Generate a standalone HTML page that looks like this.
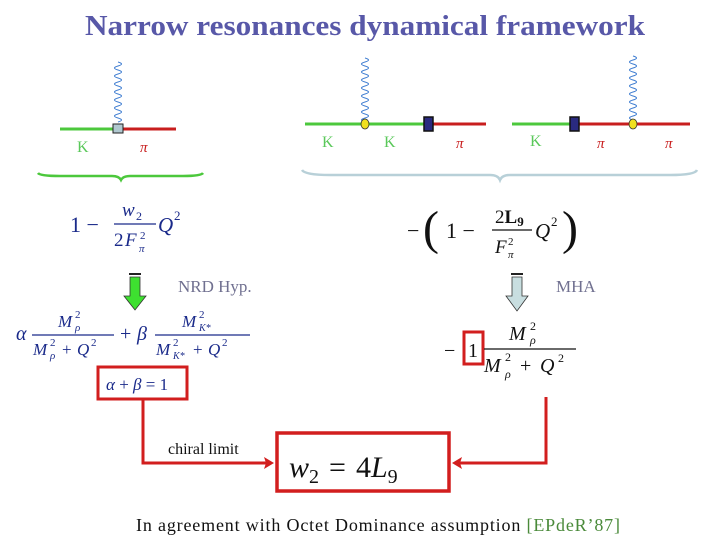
<!DOCTYPE html>
<html><head><meta charset="utf-8"><style>
html,body{margin:0;padding:0;background:#fff;}
svg{display:block;}
.m{font-family:"Liberation Serif",serif;fill:#1a2a8a;font-style:italic;}
.r{font-family:"Liberation Serif",serif;fill:#1a2a8a;}
.k{font-family:"Liberation Serif",serif;fill:#5ac85a;font-size:16px;}
.p{font-family:"Liberation Serif",serif;fill:#c81e1e;font-size:15px;font-style:italic;}
.g{font-family:"Liberation Serif",serif;fill:#707090;font-size:17px;}
.b{font-family:"Liberation Serif",serif;fill:#111;}
</style></head><body>
<svg width="720" height="540" viewBox="0 0 720 540" xmlns="http://www.w3.org/2000/svg">
<text x="365" y="35" text-anchor="middle" font-family="Liberation Serif,serif" font-weight="bold" font-size="28" fill="#5858a8" textLength="560" lengthAdjust="spacingAndGlyphs">Narrow resonances dynamical framework</text>

<!-- diagram 1 -->
<path d="M118,62 q7,2 0,4 t0,4 t0,4 t0,4 t0,4 t0,4 t0,4 t0,4 t0,4 t0,4 t0,4 t0,4 t0,4 t0,4 t0,4" fill="none" stroke="#3a7ad0" stroke-width="1"/>
<line x1="60" y1="129" x2="118" y2="129" stroke="#4cc83c" stroke-width="3"/>
<line x1="118" y1="129" x2="176" y2="129" stroke="#c81e1e" stroke-width="3"/>
<rect x="113" y="124" width="10" height="9" fill="#b0c8d0" stroke="#222" stroke-width="1"/>
<text x="77" y="152" class="k">K</text>
<text x="140" y="152" class="p">π</text>
<path d="M38,173 Q40,176 60,176 L112,176 Q119,176 121,180 Q123,176 130,176 L183,176 Q201,176 203,173" fill="none" stroke="#4cc83c" stroke-width="2.5"/>

<!-- diagram 2 -->
<path d="M365,58 q7,2 0,4 t0,4 t0,4 t0,4 t0,4 t0,4 t0,4 t0,4 t0,4 t0,4 t0,4 t0,4 t0,4 t0,4 t0,4 t0,4" fill="none" stroke="#3a7ad0" stroke-width="1"/>
<line x1="305" y1="124" x2="428" y2="124" stroke="#4cc83c" stroke-width="3"/>
<line x1="428" y1="124" x2="486" y2="124" stroke="#c81e1e" stroke-width="3"/>
<ellipse cx="365" cy="124" rx="4" ry="5" fill="#f0e020" stroke="#333" stroke-width="0.8"/>
<rect x="424" y="117" width="9" height="14" fill="#2a2a80" stroke="#111" stroke-width="1.5"/>
<text x="322" y="147" class="k">K</text>
<text x="384" y="147" class="k">K</text>
<text x="456" y="148" class="p">π</text>

<!-- diagram 3 -->
<path d="M633,56 q7,2 0,4 t0,4 t0,4 t0,4 t0,4 t0,4 t0,4 t0,4 t0,4 t0,4 t0,4 t0,4 t0,4 t0,4 t0,4 t0,4" fill="none" stroke="#3a7ad0" stroke-width="1"/>
<line x1="512" y1="124" x2="575" y2="124" stroke="#4cc83c" stroke-width="3"/>
<line x1="575" y1="124" x2="690" y2="124" stroke="#c81e1e" stroke-width="3"/>
<rect x="570" y="117" width="9" height="14" fill="#2a2a80" stroke="#111" stroke-width="1.5"/>
<ellipse cx="633" cy="124" rx="4" ry="5" fill="#f0e020" stroke="#333" stroke-width="0.8"/>
<text x="530" y="146" class="k">K</text>
<text x="597" y="148" class="p">π</text>
<text x="665" y="148" class="p">π</text>
<path d="M302,170 Q305,175 330,175 L490,175 Q498,175 500,180 Q502,175 510,175 L670,175 Q695,175 697,170" fill="none" stroke="#b8d0d8" stroke-width="2.5"/>

<!-- formula 1 -->
<text x="70" y="232" class="r" font-size="22">1 −</text>
<text x="122" y="216" class="m" font-size="19">w</text><text x="136" y="220" class="r" font-size="12">2</text>
<line x1="114" y1="224" x2="156" y2="224" stroke="#1a2a8a" stroke-width="1.2"/>
<text x="114" y="246" class="r" font-size="19">2</text><text x="125" y="246" class="m" font-size="19">F</text>
<text x="140" y="239" class="r" font-size="11">2</text><text x="139" y="252" class="m" font-size="11">π</text>
<text x="158" y="232" class="m" font-size="21">Q</text><text x="174" y="220" class="r" font-size="13">2</text>

<!-- formula 2 -->
<text x="407" y="238" class="b" font-size="22">−</text>
<text x="423" y="244" class="b" font-size="48">(</text>
<text x="446" y="238" class="b" font-size="22">1 −</text>
<text x="495" y="223" class="b" font-size="19">2<tspan font-weight="bold">L</tspan><tspan font-size="13" dy="3" font-weight="bold">9</tspan></text>
<line x1="492" y1="230" x2="532" y2="230" stroke="#111" stroke-width="1.2"/>
<text x="495" y="253" class="b" font-size="19" font-style="italic">F</text>
<text x="508" y="245" class="b" font-size="11">2</text><text x="508" y="258" class="b" font-size="11" font-style="italic">π</text>
<text x="535" y="238" class="b" font-size="21" font-style="italic">Q</text><text x="551" y="226" class="b" font-size="13">2</text>
<text x="562" y="244" class="b" font-size="48">)</text>

<!-- arrows -->
<rect x="129" y="273" width="12" height="2" fill="#222"/>
<path d="M130,277 H140 V296 H146 L135,310 L124,296 H130 Z" fill="#3ee030" stroke="#333" stroke-width="0.8"/>
<rect x="511" y="273" width="12" height="2" fill="#222"/>
<path d="M512,277 H522 V296 H528 L517,311 L506,296 H512 Z" fill="#c8dee0" stroke="#333" stroke-width="0.8"/>
<text x="178" y="292" class="g">NRD Hyp.</text>
<text x="556" y="292" class="g">MHA</text>

<!-- alpha beta formula -->
<text x="16" y="340" class="m" font-size="20">α</text>
<text x="58" y="327" class="m" font-size="17">M</text><text x="75" y="318" class="r" font-size="11">2</text><text x="75" y="331" class="m" font-size="11">ρ</text>
<line x1="32" y1="335" x2="114" y2="335" stroke="#1a2a8a" stroke-width="1.2"/>
<text x="33" y="355" class="m" font-size="17">M</text><text x="50" y="346" class="r" font-size="11">2</text><text x="50" y="359" class="m" font-size="11">ρ</text>
<text x="62" y="355" class="r" font-size="17">+</text><text x="77" y="355" class="m" font-size="17">Q</text><text x="91" y="346" class="r" font-size="11">2</text>
<text x="120" y="340" class="r" font-size="20">+</text><text x="137" y="340" class="m" font-size="20">β</text>
<text x="182" y="327" class="m" font-size="17">M</text><text x="199" y="318" class="r" font-size="11">2</text><text x="199" y="331" class="m" font-size="10">K*</text>
<line x1="155" y1="335" x2="250" y2="335" stroke="#1a2a8a" stroke-width="1.2"/>
<text x="156" y="355" class="m" font-size="17">M</text><text x="173" y="346" class="r" font-size="11">2</text><text x="173" y="359" class="m" font-size="10">K*</text>
<text x="193" y="355" class="r" font-size="17">+</text><text x="208" y="355" class="m" font-size="17">Q</text><text x="222" y="346" class="r" font-size="11">2</text>

<rect x="98" y="367" width="89" height="32" fill="none" stroke="#d21e1e" stroke-width="3"/>
<text x="106" y="390" class="m" font-size="17">α <tspan font-style="normal">+</tspan> β <tspan font-style="normal">= 1</tspan></text>

<!-- -1 fraction -->
<text x="444" y="357" class="b" font-size="20">−</text>
<text x="468" y="357" class="b" font-size="20">1</text>
<rect x="464" y="332" width="19" height="32" fill="none" stroke="#d21e1e" stroke-width="3"/>
<text x="509" y="340" class="b" font-size="20" font-style="italic">M</text><text x="530" y="330" class="b" font-size="12">2</text><text x="530" y="344" class="b" font-size="12" font-style="italic">ρ</text>
<line x1="484" y1="349" x2="576" y2="349" stroke="#111" stroke-width="1.2"/>
<text x="484" y="372" class="b" font-size="20" font-style="italic">M</text><text x="505" y="361" class="b" font-size="12">2</text><text x="505" y="378" class="b" font-size="12" font-style="italic">ρ</text>
<text x="520" y="372" class="b" font-size="20">+</text><text x="540" y="372" class="b" font-size="20" font-style="italic">Q</text><text x="558" y="362" class="b" font-size="12">2</text>

<!-- connectors -->
<polyline points="143,400 143,463 268,463" fill="none" stroke="#d21e1e" stroke-width="3"/>
<path d="M274,463 L264,457 L266,463 L264,469 Z" fill="#d21e1e"/>
<polyline points="546,397 546,463 458,463" fill="none" stroke="#d21e1e" stroke-width="3"/>
<path d="M452,463 L462,457 L460,463 L462,469 Z" fill="#d21e1e"/>
<text x="168" y="454" class="b" font-size="16">chiral limit</text>
<rect x="277" y="433" width="172" height="58" fill="none" stroke="#d21e1e" stroke-width="3.5"/>
<text x="289" y="477" class="b" font-size="30" font-style="italic">w<tspan font-style="normal" font-size="20" dy="6">2</tspan><tspan font-style="normal" dy="-6" dx="10">=</tspan><tspan font-style="normal" dx="10">4</tspan>L<tspan font-style="normal" font-size="20" dy="6">9</tspan></text>

<text x="136" y="531" class="b" font-size="18" textLength="484" lengthAdjust="spacing">In agreement with  Octet Dominance assumption <tspan fill="#4a8a3a">[EPdeR’87]</tspan></text>
</svg>
</body></html>
